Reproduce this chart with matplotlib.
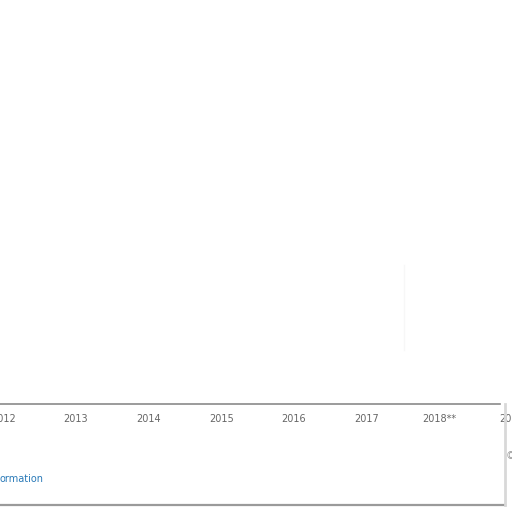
import matplotlib
matplotlib.use("Agg")
import matplotlib.pyplot as plt
from matplotlib.lines import Line2D

years = [2012, 2013, 2014, 2015, 2016, 2017, 2018, 2019]
year_labels = ["2012", "2013", "2014", "2015", "2016", "2017", "2018**", "2019"]

W = H = 512
fig = plt.figure(figsize=(W / 100, H / 100), dpi=100)
fig.patch.set_facecolor("white")

# plot area: the visible chart body is empty, only the category axis shows
px_first, px_step = 3.5, 75.0
ax = fig.add_axes([0, 1 - 410 / H, 1, 410 / H])
ax.set_xlim(years[0] - px_first / px_step, years[0] + (W - px_first) / px_step)
ax.set_ylim(0, 1)
ax.set_xticks(years)
ax.set_xticklabels(year_labels, fontsize=7, color="#666666")
ax.tick_params(axis="x", length=0, pad=3)
ax.set_yticks([])
for s in ax.spines.values():
    s.set_visible(False)
ax.patch.set_alpha(0)

# faint vertical line in the chart body
fig.add_artist(Line2D([404 / W, 404 / W], [1 - 265 / H, 1 - 350 / H],
                      color="#f7f7f7", lw=1))

# panel frame around the footer
fig.add_artist(Line2D([0, 500 / W], [1 - 404 / H, 1 - 404 / H], color="#8a8a8a", lw=1.2))
fig.add_artist(Line2D([0, 505 / W], [1 - 505 / H, 1 - 505 / H], color="#9a9a9a", lw=1.6))
fig.add_artist(Line2D([505 / W, 505 / W], [1 - 404 / H, 1 - 505 / H], color="#d8d8d8", lw=2))

fig.text(0 / W, 1 - 479 / H, "ormation", fontsize=7, color="#2a7ab8",
         ha="left", va="center")
fig.text(506 / W, 1 - 456 / H, "©", fontsize=7, color="#999999",
         ha="left", va="center")

fig.savefig("out.png", dpi=100, facecolor="white")
